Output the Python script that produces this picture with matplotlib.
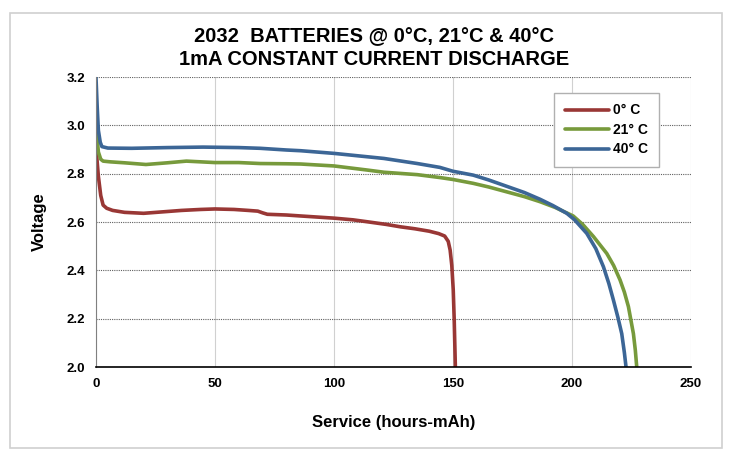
import matplotlib.pyplot as plt
from matplotlib.patches import Rectangle

plt.rcParams['font.family'] = ['Liberation Sans Narrow', 'Liberation Sans', 'DejaVu Sans']

# 0 C discharge curve
x_0c = [0, 0.5, 1, 2, 3, 4.5, 7, 12, 20, 28, 36, 44, 50, 58, 64, 68, 70, 72, 80, 86,
        100, 108, 114, 122, 128, 134, 140, 144, 146.5, 148, 148.8, 149.5, 150.1, 150.5, 150.8, 151]
v_0c = [2.92, 2.85, 2.79, 2.71, 2.67, 2.657, 2.648, 2.64, 2.636, 2.642, 2.648, 2.652, 2.654, 2.652, 2.648, 2.645, 2.638, 2.632, 2.629, 2.625,
        2.616, 2.609, 2.601, 2.59, 2.58, 2.572, 2.562, 2.552, 2.542, 2.52, 2.484, 2.42, 2.32, 2.2, 2.08, 2.0]

# 21 C discharge curve
x_21c = [0, 0.5, 1, 2, 3, 6, 12, 21, 30, 38, 50, 60, 69, 80, 86, 100, 114, 121, 135, 144.5, 150,
         158.5, 165, 172.5, 180, 186.6, 193, 200.5, 204.5, 209, 214.6, 217.5, 220.2, 222, 223.7, 225.8, 226.6, 227.2]
v_21c = [3.05, 2.95, 2.89, 2.86, 2.852, 2.849, 2.845, 2.838, 2.845, 2.852, 2.846, 2.846, 2.842, 2.841, 2.84, 2.832, 2.815, 2.806, 2.796, 2.784, 2.776,
         2.76, 2.745, 2.725, 2.705, 2.684, 2.66, 2.625, 2.59, 2.54, 2.47, 2.42, 2.36, 2.31, 2.25, 2.138, 2.07, 2.0]

# 40 C discharge curve
x_40c = [0, 0.5, 1, 1.8, 2.5, 5, 15, 30, 45, 60, 69, 80, 86, 100, 110, 121, 135, 144.5, 150,
         158.5, 165, 172.5, 180, 186.6, 192, 197.8, 201, 206.2, 210, 213.2, 215.5, 217.4, 219.3, 220.9, 222, 222.7]
v_40c = [3.2, 3.08, 2.98, 2.93, 2.912, 2.906, 2.905, 2.908, 2.91, 2.908, 2.905, 2.898, 2.895, 2.884, 2.874, 2.863, 2.842, 2.826, 2.81,
         2.794, 2.774, 2.748, 2.722, 2.694, 2.668, 2.636, 2.61, 2.553, 2.49, 2.415, 2.345, 2.277, 2.205, 2.138, 2.06, 2.0]

fig = plt.figure(figsize=(7.48, 4.62), dpi=100)
ax = fig.add_axes([0.1283, 0.2056, 0.7955, 0.6277])

# outer chart border
fig.patches.append(Rectangle((10 / 748, 1 - 448 / 462), 712 / 748, 435 / 462,
                             transform=fig.transFigure, fill=False, edgecolor='#d0d0d0', lw=1.2))

ax.plot(x_0c, v_0c, color='#993735', lw=2.6, label='0° C', solid_capstyle='round')
ax.plot(x_21c, v_21c, color='#779A3C', lw=2.6, label='21° C', solid_capstyle='round')
ax.plot(x_40c, v_40c, color='#3C6696', lw=2.6, label='40° C', solid_capstyle='round')

ax.set_xlim(0, 250)
ax.set_ylim(2.0, 3.2)
ax.set_xticks([0, 50, 100, 150, 200, 250])
ax.set_yticks([2.0, 2.2, 2.4, 2.6, 2.8, 3.0, 3.2])
ax.set_yticklabels(['2.0', '2.2', '2.4', '2.6', '2.8', '3.0', '3.2'])
ax.tick_params(length=0, labelsize=9.5, pad=8)
for lab in ax.get_xticklabels() + ax.get_yticklabels():
    lab.set_fontweight('bold')

ax.yaxis.grid(True, color='#606060', ls=(0, (1, 1)), lw=0.8)
ax.xaxis.grid(True, color='#d0d0d0', ls='-', lw=0.8)
ax.set_axisbelow(True)
ax.spines['top'].set_visible(False)
ax.spines['right'].set_visible(False)
ax.spines['left'].set_color('#808080')
ax.spines['bottom'].set_color('black')
ax.spines['bottom'].set_linewidth(1.2)

ax.set_xlabel('Service (hours-mAh)', fontsize=12, fontweight='bold', labelpad=18)
ax.set_ylabel('Voltage', fontsize=12, fontweight='bold', labelpad=14)
fig.text(0.5, 0.85, '2032  BATTERIES @ 0°C, 21°C & 40°C\n1mA CONSTANT CURRENT DISCHARGE',
         ha='center', va='bottom', fontsize=14.5, fontweight='bold', linespacing=1.3)

leg = ax.legend(loc='upper right', bbox_to_anchor=(0.946, 0.945), borderaxespad=0,
                fancybox=False, edgecolor='#b0b0b0', framealpha=1,
                prop={'weight': 'bold', 'size': 10},
                handlelength=3.2, handletextpad=0.3, borderpad=0.75, labelspacing=0.4)
leg.get_frame().set_linewidth(1.0)

fig.savefig('out.png', dpi=100)
